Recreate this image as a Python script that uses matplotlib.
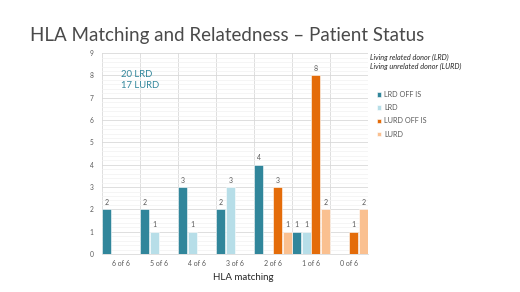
import numpy as np
import matplotlib.pyplot as plt

# data
categories = ["6 of 6", "5 of 6", "4 of 6", "3 of 6", "2 of 6", "1 of 6", "0 of 6"]
series_names = ["LRD OFF IS", "LRD", "LURD OFF IS", "LURD"]
lrd_off_is = [2, 2, 3, 2, 4, 1, 0]
lrd = [0, 1, 1, 3, 0, 1, 0]
lurd_off_is = [0, 0, 0, 0, 3, 8, 1]
lurd = [0, 0, 0, 0, 1, 2, 2]
colors = ["#31869B", "#B7DEE8", "#E46C0A", "#FAC090"]

plt.rcParams["font.family"] = ["Lato", "DejaVu Sans"]

fig = plt.figure(figsize=(5.2, 2.92), dpi=100)
ax = fig.add_axes([0.196, 0.130, 0.512, 0.688])

x = np.arange(len(categories))
width = 0.24
offsets = [-0.375, -0.125, 0.125, 0.375]
for vals, name, col, off in zip([lrd_off_is, lrd, lurd_off_is, lurd], series_names, colors, offsets):
    bars = ax.bar(x + off, vals, width=width, color=col, edgecolor="white", linewidth=0.4,
                  label=name, zorder=3)
    for b, v in zip(bars, vals):
        if v > 0:
            ax.text(b.get_x() + b.get_width() / 2, v + 0.15, str(v), ha="center", va="bottom",
                    fontsize=5, color="#595959")

ax.set_xlim(-0.5, len(categories) - 0.5)
ax.set_ylim(0, 9)
ax.set_xticks(x)
ax.set_xticklabels(categories, fontsize=5, color="#595959")
ax.set_xticks(np.arange(-0.5, len(categories), 1), minor=True)
ax.set_yticks(np.arange(0, 10, 1))
ax.set_yticks(np.arange(0, 9.01, 0.2), minor=True)
ax.tick_params(axis="y", labelsize=4.8, labelcolor="#595959", length=0, which="both", pad=6)
ax.tick_params(axis="x", length=0, which="both", pad=4)
ax.grid(axis="y", which="major", color="#D9D9D9", linewidth=0.6, zorder=0)
ax.grid(axis="y", which="minor", color="#F2F2F2", linewidth=0.5, zorder=0)
ax.grid(axis="x", which="minor", color="#D9D9D9", linewidth=0.6, zorder=0)
for s in ["top", "right", "left"]:
    ax.spines[s].set_visible(False)
ax.spines["bottom"].set_color("#D9D9D9")
ax.spines["bottom"].set_linewidth(0.6)

ax.set_xlabel("HLA matching", fontsize=7, color="#262626")
ax.xaxis.set_label_coords(0.53, -0.095)

ax.text(0.07, 0.915, "20 LRD\n17 LURD", transform=ax.transAxes, fontsize=6.8,
        color="#31869B", va="top", ha="left", linespacing=1.2)

fig.text(0.057, 0.88, "HLA Matching and Relatedness \u2013 Patient Status", fontsize=13.5,
         color="#4a4a4a", ha="left", va="center")

fig.text(0.712, 0.787, "Living related donor (LRD)\nLiving unrelated donor (LURD)",
         fontsize=5.2, style="italic", color="#262626", ha="left", va="center", linespacing=1.35)

ax.legend(loc="upper left", bbox_to_anchor=(0.712, 0.71), bbox_transform=fig.transFigure,
          frameon=False, fontsize=5.2, handlelength=0.6, handleheight=0.6, handletextpad=0.4,
          labelspacing=0.85, labelcolor="#595959")

plt.savefig("out.png", dpi=100)
